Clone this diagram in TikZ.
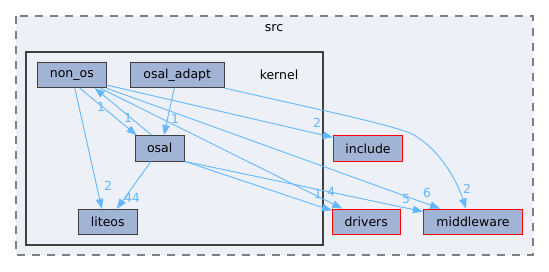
\documentclass[tikz,border=0pt]{standalone}
\usepackage{fontspec}
\setmainfont{DejaVu Sans}
\usetikzlibrary{arrows.meta}
\definecolor{edgeblue}{HTML}{63B8FF}
\definecolor{boxfill}{HTML}{A2B4D6}
\definecolor{clusterfill}{HTML}{EDF0F7}
\definecolor{darkline}{HTML}{404040}
\begin{document}
\begin{tikzpicture}[
  x=1pt, y=-1pt,
  dirnode/.style={rectangle, draw=darkline, fill=boxfill, line width=0.9pt, inner sep=0pt,
    minimum height=25.4pt, font=\fontsize{12.5}{15}\selectfont},
  extnode/.style={dirnode, draw=red},
  edge/.style={draw=edgeblue, line width=0.9pt, -{Triangle[length=10pt,width=7.5pt]}},
  cnt/.style={text=edgeblue, inner sep=0pt, font=\fontsize{12.5}{15}\selectfont},
  title/.style={inner sep=0pt, text=black, font=\fontsize{12.5}{15}\selectfont}
]
  \useasboundingbox (0,0) rectangle (549,272);

  % Carpetas contenedoras (src y kernel)
  \draw[draw=gray, fill=clusterfill, line width=1.1pt, dash pattern=on 8pt off 7pt]
    (16,16) rectangle (533,255);
  \node[title] (src) at (274,28) {src};
  \draw[draw=darkline, fill=clusterfill, line width=2pt] (26,52) rectangle (322.7,245.5);
  \node[title] (kernel) at (279,75) {kernel};

  % Subcarpetas de kernel
  \node[dirnode, minimum width=68.3pt] (non_os) at (71.85,75) {non\_os};
  \node[dirnode, minimum width=94.3pt] (osal_adapt) at (177.2,75) {osal\_adapt};
  \node[dirnode, minimum width=49.3pt] (osal) at (159.7,148.3) {osal};
  \node[dirnode, minimum width=59pt] (liteos) at (107.8,222) {liteos};

  % Carpetas externas
  \node[extnode, minimum width=69.4pt] (include) at (368,148.5) {include};
  \node[extnode, minimum width=67.7pt] (drivers) at (366.2,221.7) {drivers};
  \node[extnode, minimum width=99.4pt] (middleware) at (473,221.7) {middleware};

  % Dependencias dentro de kernel
  \draw[edge] ([xshift=3pt]non_os.south) -- ([xshift=-6pt]liteos.north);
  \draw[edge] ([xshift=-8.7pt]osal.south) -- ([xshift=9pt]liteos.north);
  \draw[edge] ([xshift=8pt]non_os.south) -- ([xshift=2pt]osal.north west);
  \draw[edge] ([xshift=-8pt]osal.north) -- ([xshift=23pt]non_os.south);
  \draw[edge] ([xshift=-3pt]osal_adapt.south) -- ([xshift=4.3pt]osal.north);

  % Dependencias hacia fuera
  \draw[edge] ([yshift=-10pt]non_os.east) -- ([yshift=-2pt]include.north west);
  \draw[edge] (non_os.south east) -- ([xshift=-33pt]middleware.north);
  \draw[edge] ([xshift=-6pt]non_os.south east) -- ([xshift=-24pt]drivers.north);
  \draw[edge] (osal.south east) -- ([yshift=-2pt]drivers.north west);
  \draw[edge] (osal.south east) -- ([yshift=-3pt]middleware.north west);
  \draw[edge] (osal_adapt.south east) .. controls (320,110) and (380,122) .. (410,133)
    .. controls (435,145) and (455,175) .. ([xshift=-7pt]middleware.north);

  % Contadores
  \node[cnt] (c1) at (108,186) {2};
  \node[cnt] (c2) at (132,198) {44};
  \node[cnt] (c3) at (128,118) {1};
  \node[cnt] (c4) at (101,107) {1};
  \node[cnt] (c5) at (175,119) {1};
  \node[cnt] (c6) at (317,123) {2};
  \node[cnt] (c7) at (467,189) {2};
  \node[cnt] (c8) at (331,192) {4};
  \node[cnt] (c9) at (318,194) {1};
  \node[cnt] (c10) at (406,199) {5};
  \node[cnt] (c11) at (427,193) {6};
\end{tikzpicture}
\end{document}
